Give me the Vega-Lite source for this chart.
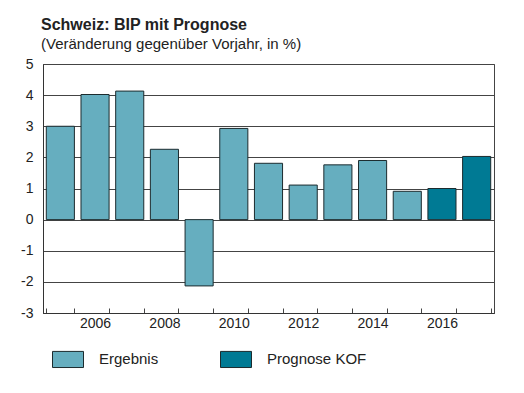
{
  "$schema": "https://vega.github.io/schema/vega-lite/v6.json",
  "width": 451,
  "height": 249,
  "autosize": {"type": "none"},
  "padding": {"left": 43, "top": 64, "right": 30, "bottom": 80},
  "background": "white",
  "title": {
    "text": "Schweiz: BIP mit Prognose",
    "subtitle": "(Veränderung gegenüber Vorjahr, in %)",
    "anchor": "start",
    "frame": "group",
    "dx": -2,
    "offset": 5,
    "font": "Liberation Sans",
    "fontSize": 16,
    "fontWeight": "bold",
    "color": "#222222",
    "subtitleFont": "Liberation Sans",
    "subtitleFontSize": 15,
    "subtitleColor": "#222222",
    "subtitlePadding": 4
  },
  "config": {
    "view": {"stroke": "#444444", "strokeWidth": 1},
    "axis": {"labelFont": "Liberation Sans", "labelColor": "#222222", "labelFontSize": 14}
  },
  "data": {
    "values": [
      {"year": "2005", "value": 3.0, "type": "Ergebnis"},
      {"year": "2006", "value": 4.02, "type": "Ergebnis"},
      {"year": "2007", "value": 4.13, "type": "Ergebnis"},
      {"year": "2008", "value": 2.26, "type": "Ergebnis"},
      {"year": "2009", "value": -2.13, "type": "Ergebnis"},
      {"year": "2010", "value": 2.93, "type": "Ergebnis"},
      {"year": "2011", "value": 1.81, "type": "Ergebnis"},
      {"year": "2012", "value": 1.11, "type": "Ergebnis"},
      {"year": "2013", "value": 1.76, "type": "Ergebnis"},
      {"year": "2014", "value": 1.9, "type": "Ergebnis"},
      {"year": "2015", "value": 0.91, "type": "Ergebnis"},
      {"year": "2016", "value": 1.0, "type": "Prognose KOF"},
      {"year": "2017", "value": 2.03, "type": "Prognose KOF"}
    ]
  },
  "mark": {"type": "bar", "stroke": "#1c2b2e", "strokeWidth": 1},
  "encoding": {
    "x": {
      "field": "year",
      "type": "ordinal",
      "scale": {"paddingInner": 0.19, "paddingOuter": 0.095},
      "axis": {
        "title": null,
        "labelAngle": 0,
        "tickBand": "extent",
        "tickSize": -5,
        "tickColor": "#444444",
        "domainColor": "#333333",
        "labelPadding": 8,
        "labelExpr": "toNumber(datum.value) % 2 == 0 ? datum.label : ''"
      }
    },
    "y": {
      "field": "value",
      "type": "quantitative",
      "scale": {"domain": [-3, 5], "nice": false},
      "axis": {
        "title": null,
        "values": [-3, -2, -1, 0, 1, 2, 3, 4, 5],
        "labelExpr": "toString(datum.value)",
        "ticks": false,
        "grid": true,
        "gridColor": "#444444",
        "gridOpacity": 1,
        "domainColor": "#333333",
        "labelPadding": 10
      }
    },
    "color": {
      "field": "type",
      "type": "nominal",
      "scale": {"domain": ["Ergebnis", "Prognose KOF"], "range": ["#66aebf", "#007a94"]},
      "legend": {
        "title": null,
        "orient": "none",
        "direction": "horizontal",
        "legendX": 9,
        "legendY": 279,
        "symbolType": "M-1,-0.52H1V0.52H-1Z",
        "symbolSize": 961,
        "symbolStrokeColor": "#1c2b2e",
        "symbolStrokeWidth": 1,
        "symbolOpacity": 1,
        "labelFont": "Liberation Sans",
        "labelFontSize": 15,
        "labelColor": "#222222",
        "labelOffset": 15,
        "columnPadding": 59
      }
    }
  }
}
